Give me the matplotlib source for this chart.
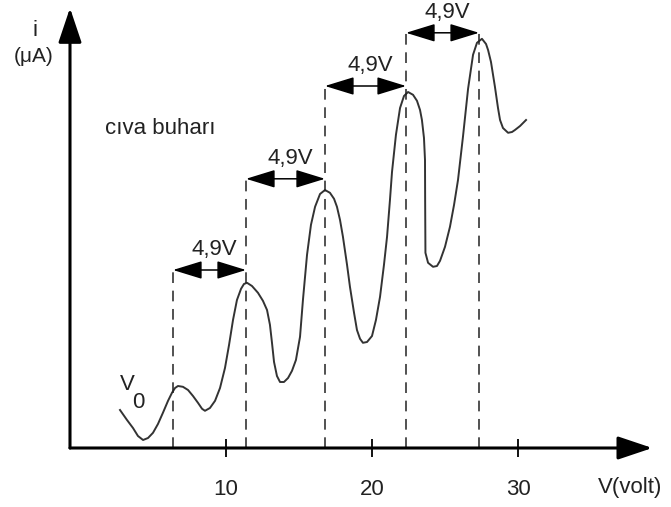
import matplotlib
matplotlib.use("Agg")
import matplotlib.pyplot as plt

plt.rcParams['font.family'] = ['Liberation Sans', 'DejaVu Sans']

# Franck-Hertz curve (mercury vapour)
V_curve = [2.74, 3.22, 3.63, 3.97, 4.32, 4.66, 5.00, 5.34, 5.68, 6.03, 6.30, 6.51, 6.71,
           7.05, 7.40, 7.74, 8.08, 8.36, 8.56, 8.90, 9.25, 9.59, 9.93, 10.21, 10.48, 10.75,
           11.03, 11.23, 11.44, 11.78, 12.19, 12.53, 12.81, 13.01, 13.15, 13.29, 13.49, 13.70,
           13.97, 14.25, 14.52, 14.79, 15.07, 15.27, 15.55, 15.82, 16.10, 16.44, 16.78, 17.12,
           17.40, 17.60, 17.81, 18.01, 18.29, 18.49, 18.77, 18.97, 19.18, 19.38, 19.66, 20.00,
           20.27, 20.55, 20.82, 21.03, 21.23, 21.37, 21.64, 21.92, 22.19, 22.47, 22.81, 23.08,
           23.29, 23.42, 23.56, 23.63, 23.64, 23.66, 23.84, 24.18, 24.45, 24.66, 25.00, 25.34,
           25.62, 25.89, 26.23, 26.58, 26.92, 27.19, 27.53, 27.81, 27.95, 28.15, 28.42, 28.63,
           28.77, 28.97, 29.32, 29.59, 29.79, 30.14, 30.55]
i_curve = [0.95, 0.70, 0.50, 0.30, 0.20, 0.25, 0.38, 0.60, 0.88, 1.18, 1.38, 1.50, 1.55,
           1.53, 1.45, 1.30, 1.13, 0.98, 0.93, 1.00, 1.18, 1.50, 2.00, 2.58, 3.20, 3.70,
           3.98, 4.10, 4.13, 4.05, 3.88, 3.68, 3.45, 3.08, 2.63, 2.15, 1.80, 1.65,
           1.65, 1.75, 1.93, 2.20, 2.78, 3.70, 4.83, 5.58, 6.03, 6.35, 6.45, 6.38,
           6.23, 6.03, 5.70, 5.28, 4.58, 4.03, 3.38, 2.95, 2.73, 2.63, 2.65, 2.80,
           3.20, 3.78, 4.58, 5.28, 6.20, 6.90, 7.83, 8.50, 8.80, 8.90, 8.83, 8.68,
           8.45, 8.20, 7.75, 7.20, 6.20, 4.88, 4.63, 4.53, 4.55, 4.68, 5.03, 5.53,
           6.08, 6.70, 7.78, 8.98, 9.83, 10.13, 10.23, 10.10, 9.95, 9.65, 9.03, 8.50,
           8.20, 8.00, 7.88, 7.90, 7.95, 8.05, 8.20]

peak_V = [6.37, 11.37, 16.78, 22.33, 27.33]
dash_top = [4.45, 6.73, 9.05, 10.40, 10.40]
arrow_i = [4.45, 6.73, 9.05, 10.38]
gap_label = "4,9V"
x_ticks = [10, 20, 30]

TXT = '#222222'

fig = plt.figure(figsize=(6.71, 5.07), dpi=100)
ax = fig.add_axes([0, 0, 1, 1])
ax.set_xlim(-5.479, 40.479)
ax.set_ylim(-1.475, 11.2)
for s in ax.spines.values():
    s.set_visible(False)
ax.spines['bottom'].set_position(('data', 0))
ax.set_yticks([])
ax.set_xticks(x_ticks)
ax.set_xticklabels([str(t) for t in x_ticks])
ax.tick_params(axis='x', direction='inout', length=13, width=1.3, pad=16,
               labelsize=16, color='black', labelcolor=TXT)

# axes with arrow heads
x0 = -0.685
axis_arrow = dict(arrowstyle='-|>,head_length=1.25,head_width=0.42',
                  lw=2.2, color='black', mutation_scale=17, shrinkA=0, shrinkB=0)
ax.annotate('', xy=(39.2, 0), xytext=(x0, 0), arrowprops=axis_arrow)
ax.annotate('', xy=(x0, 11.0), xytext=(x0, 0), arrowprops=axis_arrow)

# curve
ax.plot(V_curve, i_curve, color='#333333', lw=1.4)

# dashed guide lines at the peaks
for v, top in zip(peak_V, dash_top):
    ax.plot([v, v], [0, top], color=TXT, lw=1.1, ls=(0, (7, 5)))

# 4,9V double arrows
for k, h in enumerate(arrow_i):
    a, b = peak_V[k], peak_V[k + 1]
    ax.annotate('', xy=(b, h), xytext=(a, h),
                arrowprops=dict(arrowstyle='<|-|>,head_length=1.3,head_width=0.4',
                                lw=1.1, color='black', mutation_scale=14,
                                shrinkA=0, shrinkB=0))
    ax.text((a + b) / 2 + 0.3, h + 0.5, gap_label, fontsize=16, color=TXT,
            ha='center', va='center')

# labels
ax.text(-3.1, 10.45, 'i', fontsize=16, color=TXT, ha='center', va='center')
ax.text(-3.15, 9.78, '(μA)', fontsize=15, color=TXT, ha='center', va='center')
ax.text(1.71, 8.0, 'cıva buharı', fontsize=16, color=TXT, ha='left', va='center')
ax.text(2.74, 1.6, 'V', fontsize=16, color=TXT, ha='left', va='center')
ax.text(3.55, 1.15, '0', fontsize=16, color=TXT, ha='left', va='center')
ax.text(35.48, -0.98, 'V(volt)', fontsize=16, color=TXT, ha='left', va='center')

fig.savefig('out.png', dpi=100)
